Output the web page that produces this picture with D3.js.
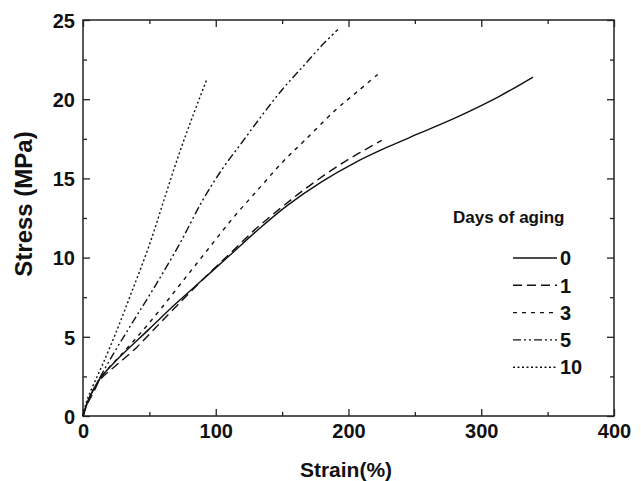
<!DOCTYPE html>
<html>
<head>
<meta charset="utf-8">
<script src="https://cdn.jsdelivr.net/npm/d3@7"></script>
<style>
  body { margin: 0; background: #fff; }
  svg text { font-family: "Liberation Sans", Arial, Helvetica, sans-serif; font-weight: bold; fill: #111; }
</style>
</head>
<body>
<svg id="chart" width="641" height="481"></svg>
<script>
// strain (%) / stress (MPa) pairs, one array per aging time
const days0  = [[0,0],[3,0.8],[7.5,1.6],[13,2.4],[25,3.5],[50,5.5],[70,7.1],[90,8.6],[110,10.1],[131,11.7],[154,13.3],[180,14.8],[205,16],[230,17],[255,17.9],[285,19],[314,20.2],[339,21.4]];
const days1  = [[0,0],[3,0.7],[8,1.5],[13,2.3],[25,3.2],[40,4.3],[55,5.6],[70,6.9],[90,8.6],[110,10.2],[130,11.8],[150,13.2],[170,14.5],[196,16],[225,17.4]];
const days3  = [[0,0],[4,1],[10,2],[18,2.9],[28,3.8],[43,5.2],[58,6.7],[75,8.5],[93,10.4],[113,12.5],[133,14.4],[150,16],[167,17.4],[190,19.3],[207,20.5],[224,21.7]];
const days5  = [[0,0],[4,1],[10,2],[22,3.8],[38,6],[55,8.3],[73,10.9],[90,13.6],[105,15.6],[120,17.3],[135,19],[150,20.6],[165,22],[180,23.4],[192,24.4]];
const days10 = [[0,0],[3,1],[8,2],[15,3.3],[25,5.3],[37,7.9],[50,10.8],[62,13.9],[73,16.7],[83,19],[93,21.2]];

const seriesNames = ["0", "1", "3", "5", "10"];
const seriesData = [days0, days1, days3, days5, days10];
const dashes = ["none", "9,5", "4,5", "8,3,2,3,2,3", "2,2.5"];

const xTicks = [0, 100, 200, 300, 400];
const yTicks = [0, 5, 10, 15, 20, 25];

const margin = {top: 20, right: 27, bottom: 65, left: 83};
const width = 641 - margin.left - margin.right,
      height = 481 - margin.top - margin.bottom;

const svg = d3.select("#chart");
const g = svg.append("g").attr("transform", "translate(" + margin.left + "," + margin.top + ")");

const x = d3.scaleLinear().domain([0, 400]).range([0, width]);
const y = d3.scaleLinear().domain([0, 25]).range([height, 0]);

// frame
g.append("rect")
  .attr("width", width).attr("height", height)
  .attr("fill", "none").attr("stroke", "#222").attr("stroke-width", 1.5);

// inward ticks, major + minor, on all four sides
function tickAxis(axisFn, scale, vals, len, transform, labels) {
  const a = g.append("g").attr("transform", transform)
    .call(axisFn(scale).tickValues(vals).tickSizeInner(len).tickSizeOuter(0)
      .tickFormat(labels ? d3.format("d") : ""));
  a.select(".domain").remove();
  a.selectAll("line").attr("stroke", "#222").attr("stroke-width", 1.3);
  return a;
}
const xMinor = d3.range(50, 400, 100), yMinor = d3.range(2.5, 25, 5);

const xb = tickAxis(d3.axisBottom, x, xTicks, -7, "translate(0," + height + ")", true);
tickAxis(d3.axisBottom, x, xMinor, -4, "translate(0," + height + ")", false);
tickAxis(d3.axisTop, x, xTicks, -7, "translate(0,0)", false);
tickAxis(d3.axisTop, x, xMinor, -4, "translate(0,0)", false);
const yl = tickAxis(d3.axisLeft, y, yTicks, -7, "translate(0,0)", true);
tickAxis(d3.axisLeft, y, yMinor, -4, "translate(0,0)", false);
tickAxis(d3.axisRight, y, yTicks, -7, "translate(" + width + ",0)", false);
tickAxis(d3.axisRight, y, yMinor, -4, "translate(" + width + ",0)", false);

xb.selectAll("text").attr("font-size", 20).attr("y", 8).attr("dy", "0.71em");
yl.selectAll("text").attr("font-size", 20).attr("x", -8).attr("dy", "0.36em");

// axis titles
svg.append("text")
  .attr("x", 346).attr("y", 477)
  .attr("text-anchor", "middle").attr("font-size", 21)
  .text("Strain(%)");
svg.append("text")
  .attr("transform", "translate(32,204) rotate(-90)")
  .attr("text-anchor", "middle").attr("font-size", 24)
  .text("Stress (MPa)");

// curves
const line = d3.line().x(d => x(d[0])).y(d => y(d[1])).curve(d3.curveCatmullRom.alpha(0.5));
seriesData.forEach((s, i) => {
  g.append("path")
    .datum(s)
    .attr("d", line)
    .attr("fill", "none")
    .attr("stroke", "#111")
    .attr("stroke-width", 1.4)
    .attr("stroke-dasharray", dashes[i]);
});

// legend
const lg = svg.append("g");
lg.append("text")
  .attr("x", 453).attr("y", 223)
  .attr("font-size", 17)
  .text("Days of aging");
seriesNames.forEach((n, i) => {
  const yy = 258 + i * 27.3;
  lg.append("line")
    .attr("x1", 513).attr("x2", 557).attr("y1", yy).attr("y2", yy)
    .attr("stroke", "#111").attr("stroke-width", 1.4)
    .attr("stroke-dasharray", dashes[i]);
  lg.append("text")
    .attr("x", 560).attr("y", yy).attr("dy", "0.36em")
    .attr("font-size", 20)
    .text(n);
});
</script>
</body>
</html>
